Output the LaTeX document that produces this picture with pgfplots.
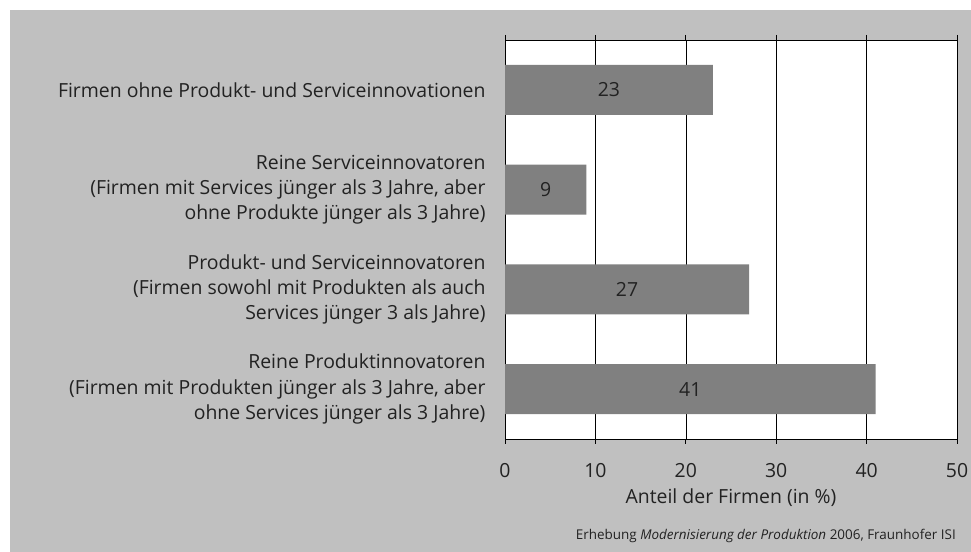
\documentclass[border=0pt]{standalone}
\usepackage{fontspec}
\setmainfont{Open Sans}
\usepackage{pgfplots}
\pgfplotsset{compat=1.18}
\definecolor{bggray}{HTML}{C0C0C0}
\definecolor{bargray}{HTML}{808080}
\definecolor{txt}{HTML}{222222}
\begin{document}
\begin{tikzpicture}[x=1bp,y=1bp]
\fill[white] (0,0) rectangle (971,552);
\fill[bggray] (10,0) rectangle (971,542);
\useasboundingbox (0,0) rectangle (971,552);
\begin{axis}[
  at={(505bp,113bp)}, anchor=south west, scale only axis,
  width=452bp, height=399bp,
  xbar, bar width=0.5,
  xmin=0, xmax=50, ymin=-0.5, ymax=3.5, y dir=reverse,
  ytick={0,1,2,3},
  yticklabels={
    {Firmen ohne Produkt- und Serviceinnovationen},
    {Reine Serviceinnovatoren\\(Firmen mit Services jünger als 3 Jahre, aber\\ohne Produkte jünger als 3 Jahre)},
    {Produkt- und Serviceinnovatoren\\(Firmen sowohl mit Produkten als auch\\Services jünger 3 als Jahre)},
    {Reine Produktinnovatoren\\(Firmen mit Produkten jünger als 3 Jahre, aber\\ohne Services jünger als 3 Jahre)}},
  xtick={0,10,...,50},
  axis background/.style={fill=white},
  xmajorgrids, major grid style={black, line width=0.6bp},
  axis line style={black, line width=0.8bp},
  xtick align=outside, major tick length=5bp,
  ytick style={draw=none}, xtick style={black, line width=0.8bp},
  tick label style={font=\fontsize{19.5}{25.5}\selectfont, text=txt},
  yticklabel style={align=right, xshift=-11bp},
  xticklabel style={yshift=-16bp},
  xlabel={Anteil der Firmen (in \%)},
  label style={font=\fontsize{19.5}{25.5}\selectfont, text=txt},
  xlabel style={yshift=-4bp},
  /pgf/number format/assume math mode=true,
  nodes near coords,
  visualization depends on={rawx \as \rawx},
  nodes near coords style={anchor=center, xshift={-4.52bp*\rawx},
    font=\fontsize{19.5}{25.5}\selectfont, text=txt},
]
\addplot[fill=bargray, draw=none] coordinates {(23,0) (9,1) (27,2) (41,3)};
\end{axis}
\node[anchor=east, font=\fontsize{13.5}{15}\selectfont, text=txt, inner sep=0pt]
  at (956,16) {Erhebung \textit{Modernisierung der Produktion} 2006, Fraunhofer ISI};
\end{tikzpicture}
\end{document}
